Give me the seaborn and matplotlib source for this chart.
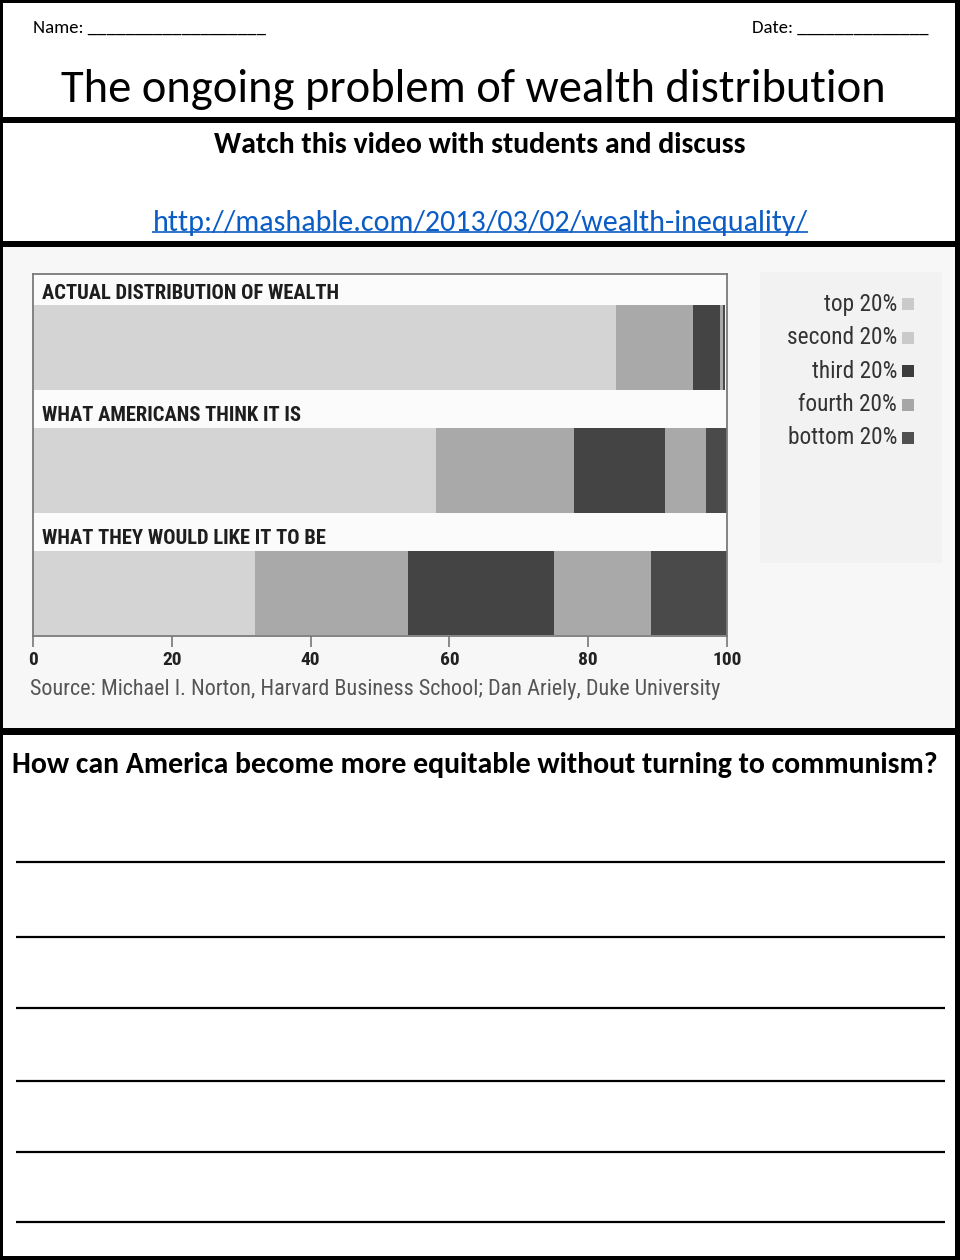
import matplotlib
matplotlib.use("Agg")
import matplotlib.pyplot as plt
from matplotlib import font_manager
from matplotlib.patches import Rectangle
import pandas as pd
import seaborn as sns

# données du graphique
rows = ["ACTUAL DISTRIBUTION OF WEALTH", "WHAT AMERICANS THINK IT IS", "WHAT THEY WOULD LIKE IT TO BE"]
groups = ["top 20%", "second 20%", "third 20%", "fourth 20%", "bottom 20%"]
actual = [84.0, 11.1, 3.9, 0.4, 0.3]
think = [58, 20, 13, 6, 3]
ideal = [32, 22, 21, 14, 11]
ticks = [0, 20, 40, 60, 80, 100]
bar_colors = ["#d4d4d4", "#a9a9a9", "#444444", "#a9a9a9", "#4a4a4a"]
swatch_colors = ["#cacaca", "#cacaca", "#3d3d3d", "#a6a6a6", "#505050"]

title = "The ongoing problem of wealth distribution"
subtitle = "Watch this video with students and discuss"
url = "http://mashable.com/2013/03/02/wealth-inequality/"
source = "Source: Michael I. Norton, Harvard Business School; Dan Ariely, Duke University"
question = "How can America become more equitable without turning to communism?"
answer_lines = [862, 937, 1008, 1081, 1152, 1222]


def pick(*names):
    for n in names:
        try:
            font_manager.findfont(n, fallback_to_default=False)
            return n
        except ValueError:
            pass
    return "DejaVu Sans"


narrow = pick("Liberation Sans Narrow", "Roboto Condensed", "Lato")
body = pick("Carlito", "Lato", "Open Sans")

sns.set_theme(style="white")
plt.rcParams["font.family"] = [body, "DejaVu Sans"]
plt.rcParams["text.color"] = "black"

fig = plt.figure(figsize=(9.6, 12.6), dpi=100)

# fond de la page en coordonnées pixels
bg = fig.add_axes([0, 0, 1, 1])
bg.set_xlim(0, 960)
bg.set_ylim(1260, 0)
bg.axis("off")

bg.add_patch(Rectangle((3, 246), 952, 482, color="#f7f7f7", lw=0))
bg.add_patch(Rectangle((760, 272), 182, 291, color="#f2f2f2", lw=0))
for (x, y, w, h) in [(0, 0, 960, 3), (0, 1256, 960, 4), (0, 0, 3, 1260), (955, 0, 5, 1260),
                     (0, 117, 960, 6), (0, 241, 960, 6), (0, 728, 960, 7)]:
    bg.add_patch(Rectangle((x, y), w, h, color="black", lw=0))

# en-tête
bg.text(33, 28, "Name: ___________________", fontsize=13.5, va="center")
bg.text(752, 28, "Date: ______________", fontsize=13.5, va="center")
bg.text(473, 90, title, fontsize=33.5, ha="center", va="center")
bg.text(480, 145, subtitle, fontsize=21.5, fontweight="bold", ha="center", va="center")
link = bg.text(480, 223, url, fontsize=21.6, color="#0b5cc4", ha="center", va="center")

# légende
for i, g in enumerate(groups):
    y = 304 + i * 33.5
    bg.text(897, y, g, fontsize=16.8, family=narrow, color="#333333", ha="right", va="center")
    bg.add_patch(Rectangle((902, y - 6), 12, 12, color=swatch_colors[i], lw=0))

bg.text(30, 690, source, fontsize=15.9, family=narrow, color="#555555", va="center")

# question et lignes de réponse
bg.text(12, 765, question, fontsize=21.5, fontweight="bold", va="center")
bg.hlines(answer_lines, 16, 945, color="black", lw=1.6)

# graphe barres empilées
df = pd.DataFrame({
    "row": [r for r in rows for _ in groups],
    "group": groups * len(rows),
    "value": actual + think + ideal,
})
df["cum"] = df.groupby("row")["value"].cumsum()

ax = fig.add_axes([33 / 960, 1 - 636 / 1260, (727 - 33) / 960, (636 - 274) / 1260])
ax.set_facecolor("#fbfbfb")
for i in reversed(range(len(groups))):
    sub = df[df["group"] == groups[i]]
    sns.barplot(data=sub, x="cum", y="row", order=rows, orient="h", color=bar_colors[i],
                saturation=1, width=0.69, linewidth=0, ax=ax)

for i, r in enumerate(rows):
    ax.text(1.3, i - 0.443, r, fontsize=14.8, fontweight="bold", family=narrow, color="#1e1e1e", va="center")

ax.set_xlim(0, 100)
ax.set_ylim(2.35, -0.6)
ax.set_yticks([])
ax.set_xticks(ticks)
ax.set_xlabel("")
ax.set_ylabel("")
ax.tick_params(axis="x", bottom=True, length=8, width=1.2, color="#777777", labelsize=14, pad=3)
for lab in ax.get_xticklabels():
    lab.set_family(narrow)
    lab.set_fontweight("bold")
    lab.set_color("#222222")
for s in ax.spines.values():
    s.set_color("#7a7a7a")
    s.set_linewidth(1.3)
    s.set_visible(True)

# soulignement du lien
fig.canvas.draw()
bb = link.get_window_extent()
inv = bg.transData.inverted()
(x0, y0), (x1, y1) = inv.transform([[bb.x0, bb.y0], [bb.x1, bb.y1]])
bg.hlines(y0 - 4, x0, x1, color="#0b5cc4", lw=1.2)

fig.savefig("out.png", dpi=100)
